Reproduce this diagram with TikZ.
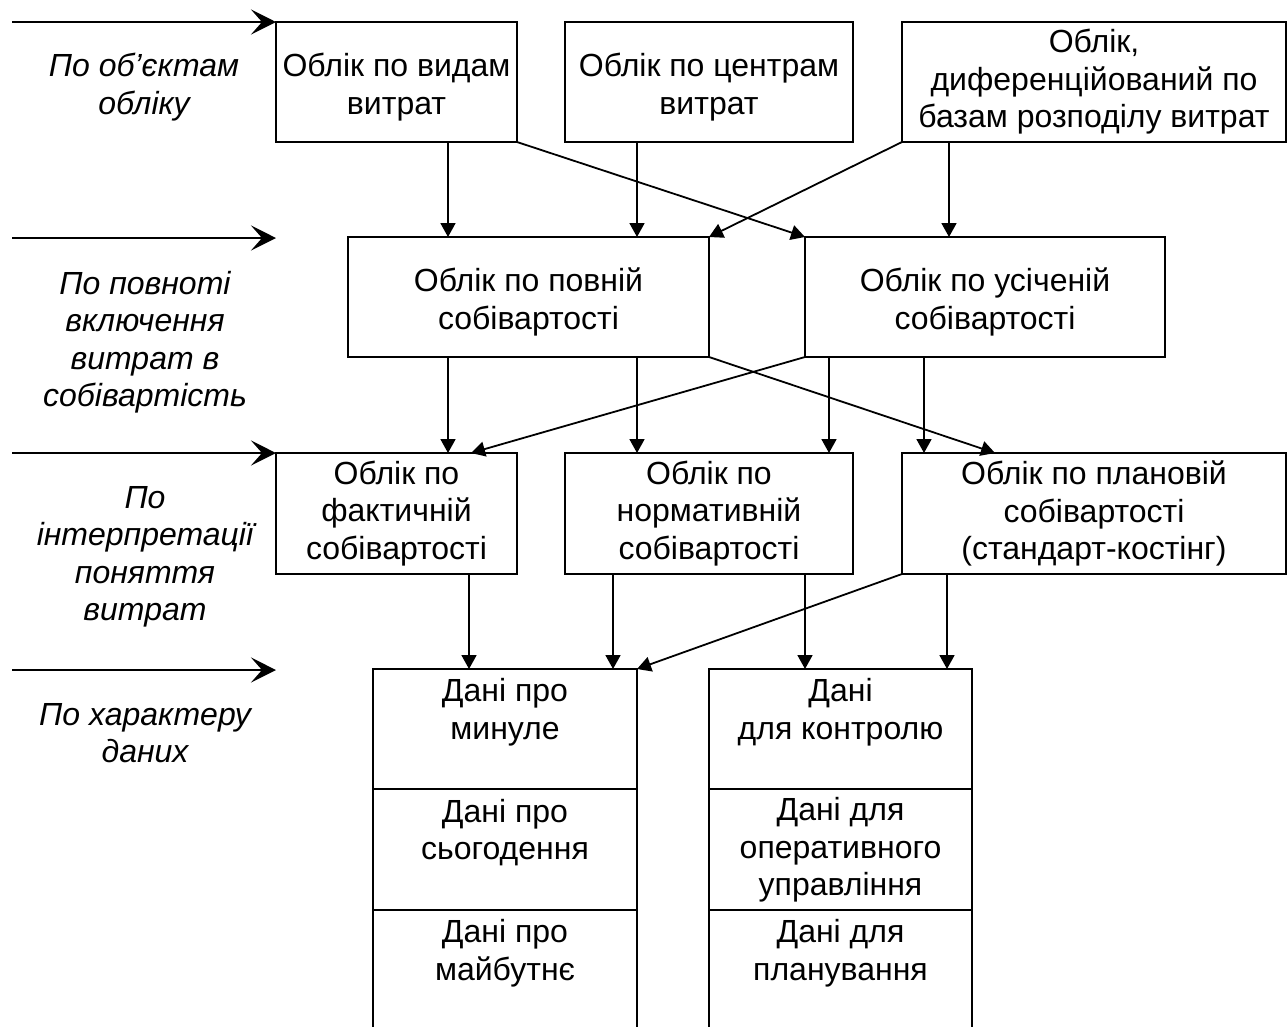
\documentclass[tikz,border=0pt]{standalone}
\usepackage{fontspec}
\setmainfont{Liberation Sans}
\usetikzlibrary{arrows.meta}
\begin{document}
\begin{tikzpicture}[x=1pt,y=-1pt,
  every node/.style={font=\fontsize{32}{37.5}\selectfont, align=center, inner sep=0pt, outer sep=0pt},
  box/.style={draw, line width=1.8pt, minimum height=120pt},
  conn/.style={line width=1.8pt, -{Triangle[length=14pt,width=15pt]}},
  side/.style={line width=2pt, -{Stealth[length=25pt,width=25pt,inset=11pt]}},
  lab/.style={font=\fontsize{32}{37.5}\selectfont\itshape}]
\useasboundingbox (0,0) rectangle (1288,1026);
\clip (0,0) rectangle (1288,1026);
\fill[white] (0,0) rectangle (1288,1026);

% row 1
\node[box, minimum width=241pt] (A) at (396.5,82) {};
\node[box, minimum width=288pt] (B) at (709,82) {};
\node[box, minimum width=384pt] (C) at (1094,82) {Облік,\\диференційований по\\базам розподілу витрат};
\node (At) at (396.5,87) {Облік по видам\\витрат};
\node (Bt) at (709,87) {Облік по центрам\\витрат};
% row 2
\node[box, minimum width=361pt] (D) at (528.5,297) {};
\node[box, minimum width=360pt] (E) at (985,297) {};
\node (Dt) at (528.5,302) {Облік по повній\\собівартості};
\node (Et) at (985,302) {Облік по усіченій\\собівартості};
% row 3
\node[box, minimum width=241pt, minimum height=121pt] (F) at (396.5,513.5) {Облік по\\фактичній\\собівартості};
\node[box, minimum width=288pt, minimum height=121pt] (G) at (709,513.5) {Облік по\\нормативній\\собівартості};
\node[box, minimum width=384pt, minimum height=121pt] (H) at (1094,513.5) {Облік по плановій\\собівартості\\(стандарт-костінг)};
% row 4
\node[box, minimum width=264pt, minimum height=120pt] (I1) at (505,729) {};
\node[box, minimum width=264pt, minimum height=121pt] (I2) at (505,849.5) {};
\node[box, minimum width=264pt, minimum height=121pt] (I3) at (505,970.5) {};
\node[box, minimum width=263pt, minimum height=120pt] (J1) at (840.5,729) {};
\node[box, minimum width=263pt, minimum height=121pt] (J2) at (840.5,849.5) {};
\node[box, minimum width=263pt, minimum height=121pt] (J3) at (840.5,970.5) {};
\node (I1t) at (505,712) {Дані про\\минуле};
\node (I2t) at (505,832.5) {Дані про\\сьогодення};
\node (I3t) at (505,953) {Дані про\\майбутнє};
\node (J1t) at (840.5,712) {Дані\\для контролю};
\node (J2t) at (840.5,850) {Дані для\\оперативного\\управління};
\node (J3t) at (840.5,953) {Дані для\\планування};

% left labels
\node[lab] (L1) at (144,87) {По об’єктам\\обліку};
\node[lab] (L2) at (145,342) {По повноті\\включення\\витрат в\\собівартість};
\node[lab] (L3) at (145,557) {По\\інтерпретації\\поняття\\витрат};
\node[lab] (L4) at (145,733) {По характеру\\даних};

% left arrows
\coordinate (s1) at (12,22);
\coordinate (s2) at (12,238);
\coordinate (s3) at (12,453);
\coordinate (s4) at (12,670);
\coordinate (t2) at (276,238);
\coordinate (t4) at (276,670);
\draw[side] (s1) -- (A.north west);
\draw[side] (s2) -- (t2);
\draw[side] (s3) -- (F.north west);
\draw[side] (s4) -- (t4);

% x positions
\coordinate (x448) at (448,0);
\coordinate (x637) at (637,0);
\coordinate (x949) at (949,0);
\coordinate (x829) at (829,0);
\coordinate (x924) at (924,0);
\coordinate (x471) at (471,0);
\coordinate (x995) at (995,0);
\coordinate (x469) at (469,0);
\coordinate (x613) at (613,0);
\coordinate (x805) at (805,0);
\coordinate (x947) at (947,0);

% row 1 -> row 2
\draw[conn] (A.south -| x448) -- (D.north -| x448);
\draw[conn] (B.south -| x637) -- (D.north -| x637);
\draw[conn] (C.south -| x949) -- (E.north -| x949);
\draw[conn] (A.south east) -- (E.north west);
\draw[conn] (C.south west) -- (D.north east);
% row 2 -> row 3
\draw[conn] (D.south -| x448) -- (F.north -| x448);
\draw[conn] (D.south -| x637) -- (G.north -| x637);
\draw[conn] (E.south -| x829) -- (G.north -| x829);
\draw[conn] (E.south -| x924) -- (H.north -| x924);
\draw[conn] (E.south west) -- (F.north -| x471);
\draw[conn] (D.south east) -- (H.north -| x995);
% row 3 -> row 4
\draw[conn] (F.south -| x469) -- (I1.north -| x469);
\draw[conn] (G.south -| x613) -- (I1.north -| x613);
\draw[conn] (G.south -| x805) -- (J1.north -| x805);
\draw[conn] (H.south -| x947) -- (J1.north -| x947);
\draw[conn] (H.south west) -- (I1.north east);
\end{tikzpicture}
\end{document}
